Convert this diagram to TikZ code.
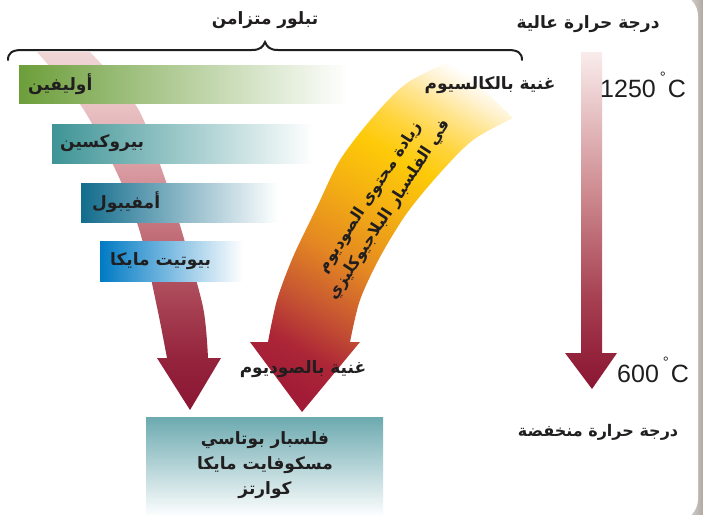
\documentclass[tikz,border=0pt]{standalone}
\usepackage{fontspec}
\setmainfont{Liberation Sans}
\newfontfamily\ar[Script=Arabic]{DejaVu Sans}
\TeXXeTstate=1
\definecolor{txtdark}{RGB}{32,30,31}
\definecolor{framegray}{RGB}{176,168,163}
\definecolor{framegrayL}{RGB}{212,207,203}
\definecolor{olv}{RGB}{108,158,58}
\definecolor{pyx}{RGB}{62,148,150}
\definecolor{amph}{RGB}{18,108,140}
\definecolor{biot}{RGB}{0,122,196}
\definecolor{boxteal}{RGB}{108,170,176}
% orange band colours
\definecolor{ob1}{RGB}{160,25,55}
\definecolor{ob2}{RGB}{172,38,55}
\definecolor{ob3}{RGB}{198,84,50}
\definecolor{ob4}{RGB}{228,136,34}
\definecolor{ob5}{RGB}{244,176,18}
\definecolor{ob6}{RGB}{253,202,8}
\definecolor{ob7}{RGB}{255,212,60}
\definecolor{ob8}{RGB}{255,228,140}
\definecolor{ob9}{RGB}{255,243,212}
% pink band colours
\definecolor{pk1}{RGB}{240,214,214}
\definecolor{pk2}{RGB}{232,192,194}
\definecolor{pk3}{RGB}{215,152,158}
\definecolor{pk4}{RGB}{195,112,122}
\definecolor{pk5}{RGB}{165,62,80}
\definecolor{pk6}{RGB}{148,35,60}
\definecolor{pk7}{RGB}{138,22,52}
% thermometer colours
\definecolor{th1}{RGB}{250,236,236}
\definecolor{th2}{RGB}{205,138,143}
\pgfdeclareverticalshading{orangeband}{100bp}{color(0bp)=(ob1); color(20bp)=(ob1); color(28bp)=(ob2); color(35bp)=(ob3); color(44bp)=(ob4); color(54bp)=(ob5); color(62bp)=(ob6); color(67bp)=(ob7); color(72bp)=(ob8); color(76bp)=(ob9); color(79bp)=(white); color(100bp)=(white)}
\pgfdeclareverticalshading{pinkband}{100bp}{color(0bp)=(pk7); color(25bp)=(pk7); color(32bp)=(pk6); color(39bp)=(pk5); color(50bp)=(pk4); color(58bp)=(pk3); color(67bp)=(pk2); color(75bp)=(pk1); color(100bp)=(pk1)}
\pgfdeclareverticalshading{thermo}{100bp}{color(0bp)=(pk7); color(25bp)=(pk7); color(30bp)=(pk6); color(38bp)=(pk5); color(54bp)=(th2); color(75bp)=(th1); color(100bp)=(th1)}
\begin{document}
\begin{tikzpicture}[x=1pt,y=-1pt,
  artxt/.style={font=\ar\bfseries\fontsize{17}{25}\selectfont, text=txtdark, inner sep=0pt},
  degtxt/.style={font=\fontsize{25}{28}\selectfont, text=txtdark, inner sep=0pt, anchor=base west}]
\useasboundingbox (0,0) rectangle (703,514);
% frame
\shade[left color=framegrayL, right color=framegray] (690,0) rectangle (703,514);
\fill[white, rounded corners=22pt] (-40,-6) rectangle (698,521);
% pink band (left arrow)
\shade[shading=pinkband]
  (157,358) -- (167,358) -- plot[smooth] coordinates {(167,358) (157,307) (140,232) (117,173) (82,107) (37,52)}
  -- (90,52) -- plot[smooth] coordinates {(90,52) (137,107) (163,173) (182,232) (203,307) (208,358)}
  -- (221,358) -- (190,410) -- cycle;
% mineral bars
\shade[left color=olv, right color=white] (19,65) rectangle (347,103);
\node[artxt, anchor=west] (olivine) at (28,84) {\beginR أوليفين\endR};
\shade[left color=pyx, right color=white] (52,124) rectangle (313,163);
\node[artxt, anchor=west] (pyroxene) at (60,143) {\beginR بيروكسين\endR};
\shade[left color=amph, right color=white] (81,183) rectangle (278,222);
\node[artxt, anchor=west] (amphibole) at (92,202) {\beginR أمفيبول\endR};
\shade[left color=biot, right color=white] (100,241) rectangle (243,281);
\node[artxt, anchor=west] (biotite) at (110,261) {\beginR بيوتيت مايكا\endR};
% orange band (plagioclase arrow)
\shade[shading=orangeband, shading angle=-30]
  (250,342) -- (268,342) -- plot[smooth] coordinates {(268,342) (277,300) (293,257) (317,207) (340,160) (373,117) (407,83) (453,60)}
  -- (513,118) -- plot[smooth] coordinates {(513,118) (473,140) (440,173) (407,213) (380,257) (360,300) (350,342)}
  -- (360,342) -- (302,412) -- cycle;
\node[artxt, rotate=57, align=center, font=\ar\bfseries\fontsize{16}{23}\selectfont] (plag) at (380,204)
  {\beginR زيادة محتوى الصوديوم\endR\\\beginR في الفلسبار البلاجيوكليزي\endR};
% thermometer arrow
\shade[shading=thermo] (581,52) -- (602,52) -- (602,353) -- (617,353) -- (592,389) -- (565,353) -- (581,353) -- cycle;
\node[degtxt] (hiT) at (600,97) {1250\hspace{4pt}\raisebox{15pt}{\fontsize{15}{15}\selectfont °}\hspace{2pt}C};
\node[degtxt] (loT) at (617,382) {600\hspace{4pt}\raisebox{15pt}{\fontsize{15}{15}\selectfont °}\hspace{2pt}C};
% labels
\node[artxt] (title) at (265,20) {\beginR تبلور متزامن\endR};
\node[artxt] (hot) at (588,24) {\beginR درجة حرارة عالية\endR};
\node[artxt] (ca) at (490,85) {\beginR غنية بالكالسيوم\endR};
\node[artxt] (na) at (303,369) {\beginR غنية بالصوديوم\endR};
\node[artxt, font=\ar\bfseries\fontsize{16}{24}\selectfont] (cold) at (598,432) {\beginR درجة حرارة منخفضة\endR};
% brace
\draw[line width=2pt, line cap=round, txtdark]
  (8,60) .. controls (8,53) and (12,50) .. (22,50) -- (252,50)
  .. controls (260,50) and (263,47) .. (265,42)
  .. controls (267,47) and (270,50) .. (278,50) -- (508,50)
  .. controls (518,50) and (522,53) .. (522,60);
% bottom box
\shade[top color=boxteal, bottom color=white] (146,417) rectangle (383,517);
\node[artxt, align=center] (residual) at (265,465)
  {\beginR فلسبار بوتاسي\endR\\\beginR مسكوفايت مايكا\endR\\\beginR كوارتز\endR};
\end{tikzpicture}
\end{document}
